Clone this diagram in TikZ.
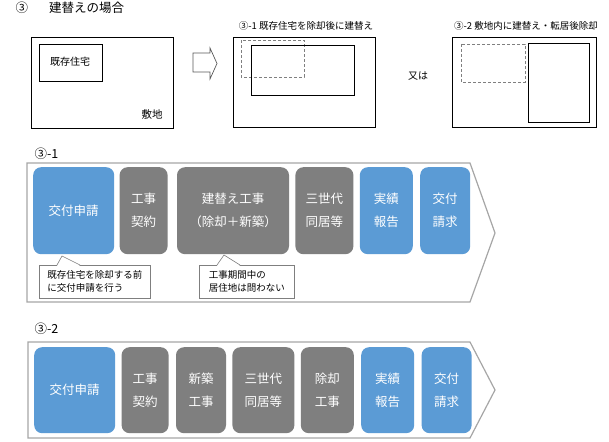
\documentclass[tikz,border=0pt]{standalone}
\usepackage{fontspec}
\setmainfont{Noto Sans CJK JP}
\usetikzlibrary{positioning}
\definecolor{apply}{HTML}{5B9BD5}
\definecolor{work}{HTML}{7F7F7F}
\definecolor{frame}{HTML}{A6A6A6}

\begin{document}
\begin{tikzpicture}[x=1pt, y=-1pt,
    site/.style={draw=black, line width=0.8pt},
    old/.style={draw=work, dash pattern=on 3pt off 2pt, line width=0.7pt},
    flow/.style={draw=frame, fill=white, line width=1.2pt},
    stage/.style={rounded corners=8pt, minimum height=87pt, inner sep=0pt,
                  align=center, text=white, font=\fontsize{12.5}{23}\selectfont},
    grant/.style={stage, fill=apply},
    works/.style={stage, fill=work},
    note/.style={draw=work, fill=white, line width=0.6pt, anchor=north west,
                 align=left, inner xsep=8pt, inner ysep=0pt, minimum height=33pt,
                 font=\fontsize{9.5}{13}\selectfont},
    pointer/.style={draw=work, line width=0.6pt},
    small/.style={font=\fontsize{9.5}{11}\selectfont},
    head/.style={font=\fontsize{12.5}{14}\selectfont, anchor=west}
  ]
  \useasboundingbox (0,0) rectangle (609,441);

  % site plans
  \node[head] (title) at (12,8) {③\hspace{21pt}建替えの場合};

  \draw[site] (31,37) rectangle (173,128);
  \draw[site] (39,44) rectangle (102,81);
  \node[font=\fontsize{10}{12}\selectfont] (house) at (70,62) {既存住宅};
  \node[font=\fontsize{10.5}{12}\selectfont] (lot) at (152,114) {敷地};

  \draw[draw=work!70!black, line width=0.7pt]
    (193,53) -- (210,53) -- (210,48) -- (217,63.5) -- (210,79) -- (210,72) -- (193,72) -- cycle;

  \node[small] (case1) at (306,26) {③-1 既存住宅を除却後に建替え};
  \draw[site] (233,37) rectangle (375,127);
  \draw[old] (241,40) rectangle (304,77);
  \draw[site] (251,45) rectangle (354,95);

  \node[font=\fontsize{10}{12}\selectfont] (or) at (418,76) {又は};

  \node[small] (case2) at (526,26) {③-2 敷地内に建替え・転居後除却};
  \draw[site] (452,37) rectangle (596,127);
  \draw[old] (461,44) rectangle (525,82);
  \draw[site] (528,43) rectangle (589,122);

  % flow 3-1
  \node[head] (flowA) at (31,154) {③-1};
  \draw[flow] (27,163) -- (470,163) -- (495,233) -- (470,302) -- (27,302) -- cycle;

  \node[grant, minimum width=81pt, anchor=north west] (a1) at (33,167) {交付申請};
  \node[works, minimum width=48pt, right=5pt of a1] (a2) {工事\\契約};
  \node[works, minimum width=112pt, right=9pt of a2] (a3) {建替え工事\\（除却＋新築）};
  \node[works, minimum width=58pt, right=6pt of a3] (a4) {三世代\\同居等};
  \node[grant, minimum width=53pt, right=6pt of a4] (a5) {実績\\報告};
  \node[grant, minimum width=50pt, right=7pt of a5] (a6) {交付\\請求};

  \node[note, minimum width=111pt] (n1) at (39,265) {既存住宅を除却する前\\に交付申請を行う};
  \node[note, minimum width=95pt] (n2) at (199,265) {工事期間中の\\居住地は問わない};
  \coordinate (tip1) at (62,256);
  \coordinate (tip2) at (224,255);
  \fill[white] ([xshift=18pt,yshift=-0.8pt]n1.north west) -- (tip1)
    -- ([xshift=41pt,yshift=-0.8pt]n1.north west) -- cycle;
  \draw[pointer] ([xshift=18pt]n1.north west) -- (tip1) -- ([xshift=41pt]n1.north west);
  \fill[white] ([xshift=18pt,yshift=-0.8pt]n2.north west) -- (tip2)
    -- ([xshift=41pt,yshift=-0.8pt]n2.north west) -- cycle;
  \draw[pointer] ([xshift=18pt]n2.north west) -- (tip2) -- ([xshift=41pt]n2.north west);

  % flow 3-2
  \node[head] (flowB) at (31,329) {③-2};
  \draw[flow] (28,342) -- (470,342) -- (495,390) -- (470,438) -- (28,438) -- cycle;

  \node[grant, minimum width=81pt, minimum height=86pt, anchor=north west] (b1) at (34,347) {交付申請};
  \node[works, minimum width=47pt, minimum height=86pt, right=6pt of b1] (b2) {工事\\契約};
  \node[works, minimum width=50pt, minimum height=86pt, right=7pt of b2] (b3) {新築\\工事};
  \node[works, minimum width=62pt, minimum height=86pt, right=6pt of b3] (b4) {三世代\\同居等};
  \node[works, minimum width=53pt, minimum height=86pt, right=6pt of b4] (b5) {除却\\工事};
  \node[grant, minimum width=53pt, minimum height=86pt, right=7pt of b5] (b6) {実績\\報告};
  \node[grant, minimum width=50pt, minimum height=86pt, right=7pt of b6] (b7) {交付\\請求};
\end{tikzpicture}
\end{document}
